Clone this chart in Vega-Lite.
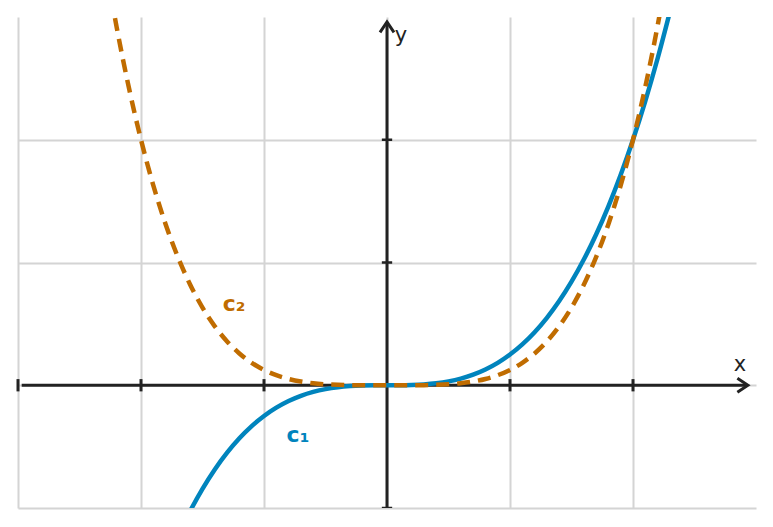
{
  "$schema": "https://vega.github.io/schema/vega-lite/v6.json",
  "width": 738,
  "height": 491,
  "autosize": "none",
  "padding": {"left": 18, "top": 17, "right": 17, "bottom": 19},
  "background": "white",
  "config": {"view": {"stroke": null}},
  "datasets": {
    "curves": [
      {"x": -1.15, "c1": -1.520875, "c2": 1.74900625},
      {"x": -1.1, "c1": -1.331, "c2": 1.4641},
      {"x": -1.05, "c1": -1.157625, "c2": 1.21550625},
      {"x": -1.0, "c1": -1.0, "c2": 1.0},
      {"x": -0.95, "c1": -0.857375, "c2": 0.81450625},
      {"x": -0.9, "c1": -0.729, "c2": 0.6561},
      {"x": -0.85, "c1": -0.614125, "c2": 0.52200625},
      {"x": -0.8, "c1": -0.512, "c2": 0.4096},
      {"x": -0.75, "c1": -0.421875, "c2": 0.31640625},
      {"x": -0.7, "c1": -0.343, "c2": 0.2401},
      {"x": -0.65, "c1": -0.274625, "c2": 0.17850625},
      {"x": -0.6, "c1": -0.216, "c2": 0.1296},
      {"x": -0.55, "c1": -0.166375, "c2": 0.09150625},
      {"x": -0.5, "c1": -0.125, "c2": 0.0625},
      {"x": -0.45, "c1": -0.091125, "c2": 0.04100625},
      {"x": -0.4, "c1": -0.064, "c2": 0.0256},
      {"x": -0.35, "c1": -0.042875, "c2": 0.01500625},
      {"x": -0.3, "c1": -0.027, "c2": 0.0081},
      {"x": -0.25, "c1": -0.015625, "c2": 0.00390625},
      {"x": -0.2, "c1": -0.008, "c2": 0.0016},
      {"x": -0.15, "c1": -0.003375, "c2": 0.00050625},
      {"x": -0.1, "c1": -0.001, "c2": 0.0001},
      {"x": -0.05, "c1": -0.000125, "c2": 0.00000625},
      {"x": 0, "c1": 0, "c2": 0},
      {"x": 0.05, "c1": 0.000125, "c2": 0.00000625},
      {"x": 0.1, "c1": 0.001, "c2": 0.0001},
      {"x": 0.15, "c1": 0.003375, "c2": 0.00050625},
      {"x": 0.2, "c1": 0.008, "c2": 0.0016},
      {"x": 0.25, "c1": 0.015625, "c2": 0.00390625},
      {"x": 0.3, "c1": 0.027, "c2": 0.0081},
      {"x": 0.35, "c1": 0.042875, "c2": 0.01500625},
      {"x": 0.4, "c1": 0.064, "c2": 0.0256},
      {"x": 0.45, "c1": 0.091125, "c2": 0.04100625},
      {"x": 0.5, "c1": 0.125, "c2": 0.0625},
      {"x": 0.55, "c1": 0.166375, "c2": 0.09150625},
      {"x": 0.6, "c1": 0.216, "c2": 0.1296},
      {"x": 0.65, "c1": 0.274625, "c2": 0.17850625},
      {"x": 0.7, "c1": 0.343, "c2": 0.2401},
      {"x": 0.75, "c1": 0.421875, "c2": 0.31640625},
      {"x": 0.8, "c1": 0.512, "c2": 0.4096},
      {"x": 0.85, "c1": 0.614125, "c2": 0.52200625},
      {"x": 0.9, "c1": 0.729, "c2": 0.6561},
      {"x": 0.95, "c1": 0.857375, "c2": 0.81450625},
      {"x": 1.0, "c1": 1.0, "c2": 1.0},
      {"x": 1.05, "c1": 1.157625, "c2": 1.21550625},
      {"x": 1.1, "c1": 1.331, "c2": 1.4641},
      {"x": 1.15, "c1": 1.520875, "c2": 1.74900625}
    ],
    "xticks": [{"v": -1.5}, {"v": -1.0}, {"v": -0.5}, {"v": 0.5}, {"v": 1.0}],
    "yticks": [{"v": -0.5}, {"v": 0.5}, {"v": 1.0}],
    "axislabels": [
      {"x": 1.435, "y": 0.081, "text": "x"},
      {"x": 0.057, "y": 1.423, "text": "y"}
    ],
    "curvelabels": [
      {"x": -0.362, "y": -0.203, "text": "c₁", "kind": "c1"},
      {"x": -0.622, "y": 0.329, "text": "c₂", "kind": "c2"}
    ]
  },
  "layer": [
    {
      "data": {"name": "xticks"},
      "mark": {"type": "rule", "color": "#222222", "strokeWidth": 3},
      "encoding": {
        "x": {
          "field": "v",
          "type": "quantitative",
          "scale": {"domain": [-1.5, 1.5], "nice": false, "zero": false},
          "axis": {
            "values": [-1.5, -1.0, -0.5, 0, 0.5, 1.0],
            "grid": true,
            "gridColor": "#d4d4d4",
            "gridWidth": 2,
            "labels": false,
            "ticks": false,
            "domain": false,
            "title": null
          }
        },
        "y": {
          "datum": -0.025,
          "type": "quantitative",
          "scale": {"domain": [-0.5, 1.5], "nice": false, "zero": false},
          "axis": {
            "values": [-0.5, 0, 0.5, 1.0],
            "grid": true,
            "gridColor": "#d4d4d4",
            "gridWidth": 2,
            "labels": false,
            "ticks": false,
            "domain": false,
            "title": null
          }
        },
        "y2": {"datum": 0.025}
      }
    },
    {
      "data": {"name": "yticks"},
      "mark": {"type": "rule", "color": "#222222", "strokeWidth": 2.5, "clip": true},
      "encoding": {
        "y": {"field": "v", "type": "quantitative"},
        "x": {"datum": -0.021, "type": "quantitative"},
        "x2": {"datum": 0.021}
      }
    },
    {
      "data": {"values": [{}]},
      "mark": {"type": "rule", "color": "#222222", "strokeWidth": 3},
      "encoding": {
        "x": {"datum": -1.485, "type": "quantitative"},
        "x2": {"datum": 1.462},
        "y": {"datum": 0, "type": "quantitative"}
      }
    },
    {
      "data": {"values": [{}]},
      "mark": {"type": "rule", "color": "#222222", "strokeWidth": 3},
      "encoding": {
        "x": {"datum": 0, "type": "quantitative"},
        "y": {"datum": -0.5, "type": "quantitative"},
        "y2": {"datum": 1.475}
      }
    },
    {
      "data": {"values": [{}]},
      "mark": {
        "type": "point",
        "shape": "M-1.5,-1L0,0L-1.5,1",
        "size": 196,
        "filled": false,
        "stroke": "#222222",
        "strokeWidth": 3,
        "opacity": 1
      },
      "encoding": {
        "x": {"datum": 1.467, "type": "quantitative"},
        "y": {"datum": 0, "type": "quantitative"}
      }
    },
    {
      "data": {"values": [{}]},
      "mark": {
        "type": "point",
        "shape": "M-1.5,-1L0,0L-1.5,1",
        "size": 196,
        "filled": false,
        "stroke": "#222222",
        "strokeWidth": 3,
        "opacity": 1,
        "angle": 270
      },
      "encoding": {
        "x": {"datum": 0, "type": "quantitative"},
        "y": {"datum": 1.48, "type": "quantitative"}
      }
    },
    {
      "data": {"name": "curves"},
      "mark": {"type": "line", "color": "#0084bd", "strokeWidth": 4.5, "clip": true, "interpolate": "monotone"},
      "encoding": {
        "x": {"field": "x", "type": "quantitative"},
        "y": {"field": "c1", "type": "quantitative"}
      }
    },
    {
      "data": {"name": "curves"},
      "mark": {"type": "line", "color": "#c06c00", "strokeWidth": 4.5, "strokeDash": [13, 8], "clip": true, "interpolate": "monotone"},
      "encoding": {
        "x": {"field": "x", "type": "quantitative"},
        "y": {"field": "c2", "type": "quantitative"}
      }
    },
    {
      "data": {"name": "axislabels"},
      "mark": {"type": "text", "font": "DejaVu Sans", "fontSize": 21, "align": "center", "baseline": "middle", "color": "#222222"},
      "encoding": {
        "x": {"field": "x", "type": "quantitative"},
        "y": {"field": "y", "type": "quantitative"},
        "text": {"field": "text"}
      }
    },
    {
      "data": {"name": "curvelabels"},
      "mark": {"type": "text", "font": "DejaVu Sans", "fontSize": 22, "fontWeight": "bold", "align": "center", "baseline": "middle"},
      "encoding": {
        "x": {"field": "x", "type": "quantitative"},
        "y": {"field": "y", "type": "quantitative"},
        "text": {"field": "text"},
        "color": {
          "field": "kind",
          "type": "nominal",
          "scale": {"domain": ["c1", "c2"], "range": ["#0084bd", "#c06c00"]},
          "legend": null
        }
      }
    }
  ]
}
